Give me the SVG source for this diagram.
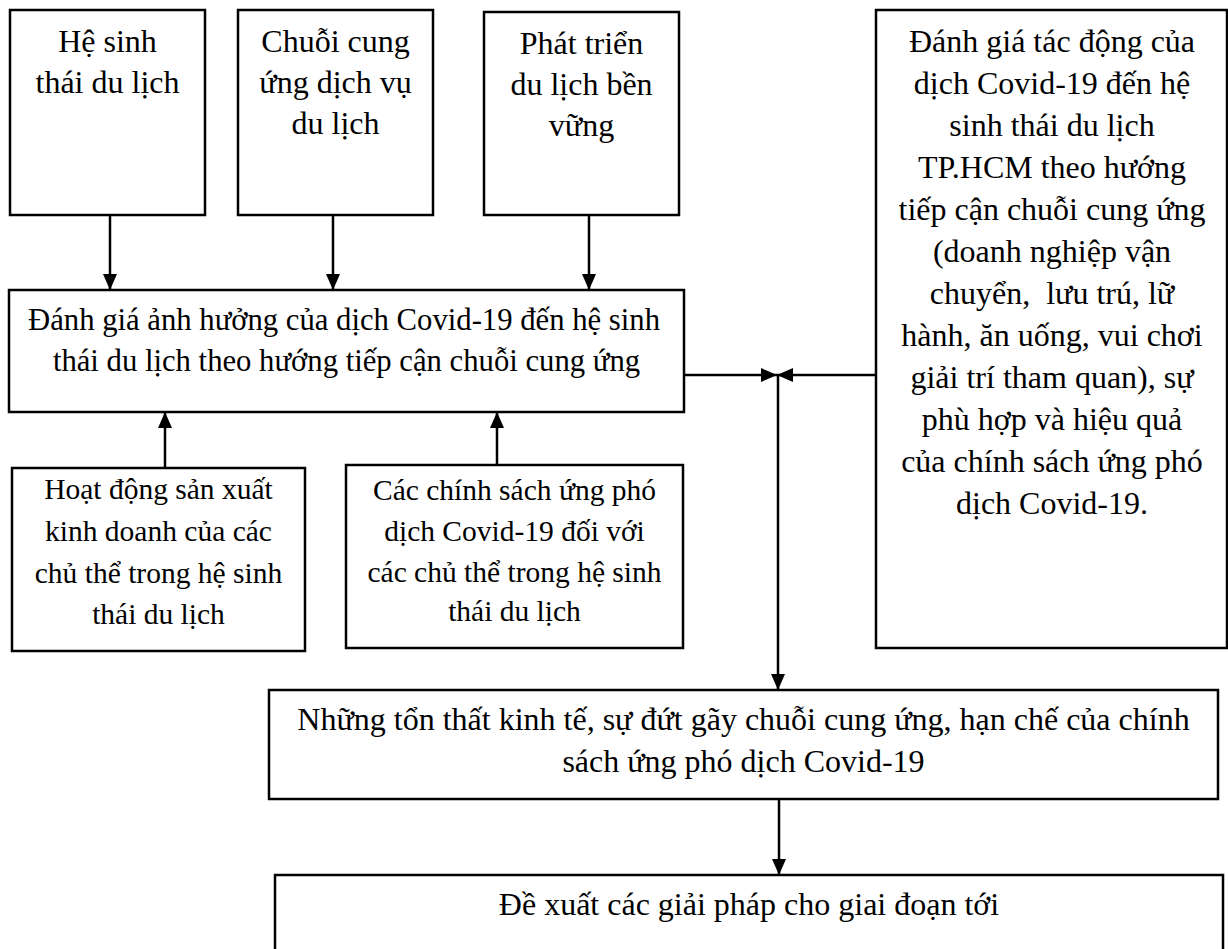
<svg xmlns="http://www.w3.org/2000/svg" width="1228" height="949" viewBox="0 0 1228 949">
<defs>
<style>
rect.box{fill:#fff;stroke:#000;stroke-width:2.5}
text{font-family:"Liberation Serif","Times New Roman",serif;font-size:32px;fill:#000;text-anchor:middle}
text.m{font-size:30.7px}
text.s{font-size:29.5px}
.conn line{stroke:#000;stroke-width:2.5}
</style>
<marker id="ah" markerUnits="userSpaceOnUse" markerWidth="16" markerHeight="14" refX="16" refY="7" orient="auto">
<path d="M0,0 L16,7 L0,14 z" fill="#000"/>
</marker>
</defs>
<rect width="1228" height="949" fill="#fff"/>
<g id="n-hesinhthai">
<rect class="box" x="10" y="10" width="195" height="205"/>
<text x="107.5" y="52">Hệ sinh</text>
<text x="107.5" y="93">thái du lịch</text>
</g>
<g id="n-chuoicungung">
<rect class="box" x="238" y="10" width="195" height="205"/>
<text x="335.5" y="52">Chuỗi cung</text>
<text x="335.5" y="93">ứng dịch vụ</text>
<text x="335.5" y="134">du lịch</text>
</g>
<g id="n-phattrien">
<rect class="box" x="484" y="12" width="195" height="203"/>
<text x="581.5" y="54">Phát triển</text>
<text x="581.5" y="95">du lịch bền</text>
<text x="581.5" y="136">vững</text>
</g>
<g id="n-danhgiatacdong">
<rect class="box" x="876" y="10" width="351" height="638"/>
<text x="1052" y="52">Đánh giá tác động của</text>
<text x="1052" y="94">dịch Covid-19 đến hệ</text>
<text x="1052" y="136">sinh thái du lịch</text>
<text x="1052" y="178">TP.HCM theo hướng</text>
<text x="1052" y="220">tiếp cận chuỗi cung ứng</text>
<text x="1052" y="262">(doanh nghiệp vận</text>
<text x="1052" y="304" xml:space="preserve">chuyển,  lưu trú, lữ</text>
<text x="1052" y="346">hành, ăn uống, vui chơi</text>
<text x="1052" y="388">giải trí tham quan), sự</text>
<text x="1052" y="430">phù hợp và hiệu quả</text>
<text x="1052" y="472">của chính sách ứng phó</text>
<text x="1052" y="514">dịch Covid-19.</text>
</g>
<g id="n-danhgiaanhhuong">
<rect class="box" x="9" y="290" width="675" height="122"/>
<text class="m" x="344" y="330">Đánh giá ảnh hưởng của dịch Covid-19 đến hệ sinh</text>
<text class="m" x="346.5" y="371">thái du lịch theo hướng tiếp cận chuỗi cung ứng</text>
</g>
<g id="n-hoatdong">
<rect class="box" x="12" y="468" width="293" height="183"/>
<text class="s" x="158.5" y="499">Hoạt động sản xuất</text>
<text class="s" x="158.5" y="541">kinh doanh của các</text>
<text class="s" x="158.5" y="583">chủ thể trong hệ sinh</text>
<text class="s" x="158.5" y="624">thái du lịch</text>
</g>
<g id="n-chinhsach">
<rect class="box" x="346" y="465" width="337" height="183"/>
<text class="s" x="514.5" y="500">Các chính sách ứng phó</text>
<text class="s" x="514.5" y="541">dịch Covid-19 đối với</text>
<text class="s" x="514.5" y="582">các chủ thể trong hệ sinh</text>
<text class="s" x="514.5" y="621">thái du lịch</text>
</g>
<g id="n-tonthat">
<rect class="box" x="269" y="690" width="949" height="109"/>
<text x="743.5" y="730">Những tổn thất kinh tế, sự đứt gãy chuỗi cung ứng, hạn chế của chính</text>
<text x="743.5" y="772">sách ứng phó dịch Covid-19</text>
</g>
<g id="n-dexuat">
<rect class="box" x="275" y="875" width="948" height="90"/>
<text x="749" y="915">Đề xuất các giải pháp cho giai đoạn tới</text>
</g>
<g id="connectors" class="conn">
<line x1="110" y1="215" x2="110" y2="290" marker-end="url(#ah)"/>
<line x1="333" y1="215" x2="333" y2="290" marker-end="url(#ah)"/>
<line x1="589" y1="215" x2="589" y2="290" marker-end="url(#ah)"/>
<line x1="165" y1="468" x2="165" y2="412" marker-end="url(#ah)"/>
<line x1="497" y1="465" x2="497" y2="412" marker-end="url(#ah)"/>
<line x1="684" y1="375" x2="777" y2="375" marker-end="url(#ah)"/>
<line x1="876" y1="375" x2="777" y2="375" marker-end="url(#ah)"/>
<line x1="778" y1="375" x2="778" y2="690" marker-end="url(#ah)"/>
<line x1="779" y1="799" x2="779" y2="875" marker-end="url(#ah)"/>
</g>
</svg>
